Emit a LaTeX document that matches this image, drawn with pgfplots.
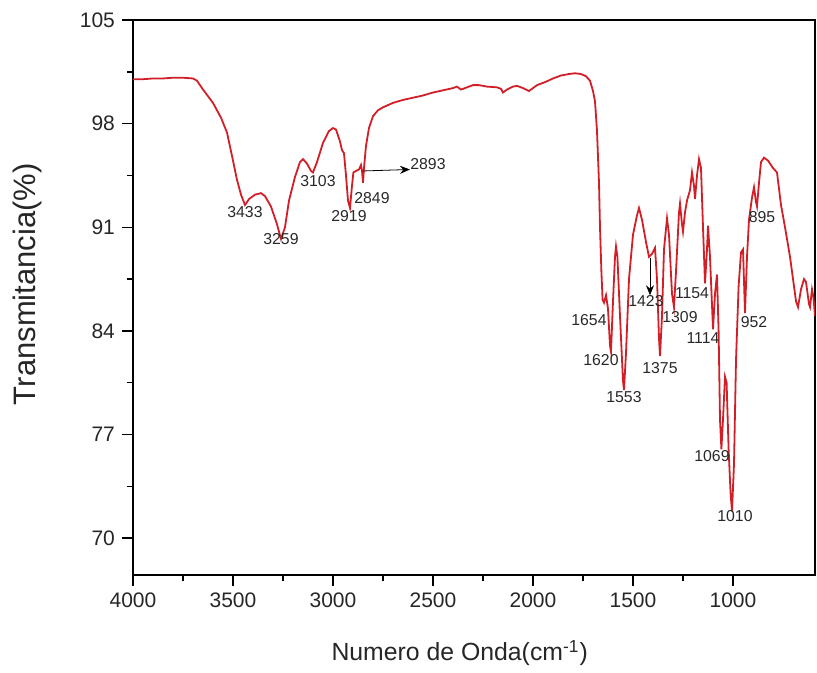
\documentclass[border=0pt]{standalone}
\usepackage{fontspec}
\setmainfont{Liberation Sans}
\usepackage{pgfplots}
\pgfplotsset{compat=1.18}
\usetikzlibrary{arrows.meta}
\definecolor{irred}{RGB}{210,30,38}
\definecolor{lbl}{RGB}{40,40,40}
\pgfplotstableread{
x y
4000 101.0
3950 101.0
3900 101.05
3850 101.05
3800 101.1
3750 101.1
3700 101.05
3680 100.9
3650 100.3
3600 99.4
3560 98.4
3530 97.4
3500 95.5
3480 94.2
3460 93.2
3440 92.5
3420 92.9
3390 93.2
3360 93.3
3340 93.1
3310 92.4
3280 91.2
3260 90.2
3240 91.0
3220 92.8
3190 94.4
3165 95.4
3150 95.6
3130 95.3
3110 94.8
3100 94.7
3080 95.4
3050 96.7
3020 97.5
3000 97.7
2985 97.6
2965 96.8
2955 96.2
2945 96.0
2935 94.5
2925 92.8
2915 92.3
2905 93.8
2898 94.7
2885 94.8
2870 94.9
2860 95.2
2855 94.8
2850 94.0
2845 95.0
2835 96.5
2820 97.7
2800 98.5
2775 98.9
2750 99.1
2700 99.4
2650 99.6
2600 99.75
2550 99.9
2500 100.1
2450 100.25
2400 100.4
2380 100.5
2360 100.3
2340 100.4
2300 100.6
2270 100.6
2230 100.5
2180 100.45
2160 100.35
2150 100.1
2130 100.3
2100 100.5
2080 100.55
2050 100.4
2020 100.2
2000 100.4
1980 100.6
1940 100.8
1900 101.05
1860 101.25
1820 101.35
1790 101.4
1760 101.35
1735 101.2
1715 100.9
1700 100.2
1690 99.5
1680 97.5
1670 94.0
1665 91.0
1658 88.0
1652 86.1
1645 85.9
1635 86.4
1625 85.5
1615 83.0
1610 82.6
1600 86.0
1590 89.0
1585 89.7
1578 89.0
1565 85.0
1550 80.6
1545 80.0
1535 82.5
1520 87.5
1500 90.5
1480 91.8
1470 92.3
1455 91.5
1435 90.0
1420 89.0
1405 89.2
1390 89.6
1380 87.5
1370 83.5
1365 82.3
1355 85.0
1345 89.5
1330 91.6
1320 90.5
1305 86.5
1295 85.6
1285 88.0
1270 92.0
1265 92.6
1255 91.2
1250 90.7
1240 92.0
1230 92.8
1215 93.5
1205 94.7
1195 93.8
1190 92.9
1180 94.5
1170 95.6
1160 95.0
1150 91.0
1140 87.2
1130 89.5
1125 91.1
1115 89.0
1100 84.1
1090 86.5
1080 87.8
1072 84.0
1065 78.0
1058 76.0
1050 78.0
1040 80.9
1032 80.5
1022 76.0
1012 73.0
1005 71.8
995 75.0
985 82.0
972 87.0
960 89.3
950 89.5
940 85.2
930 89.0
920 91.5
905 93.0
895 93.7
885 92.7
880 92.4
870 94.0
860 95.4
845 95.7
825 95.5
800 95.0
780 94.7
760 92.5
740 91.0
715 89.0
700 87.5
685 86.0
675 85.6
660 86.8
645 87.5
635 87.3
620 85.8
615 85.6
605 86.8
598 86.3
590 85.0
}\irdata
\begin{document}
\begin{tikzpicture}
\begin{axis}[
  scale only axis, width=341pt, height=277.5pt,
  x dir=reverse, xmin=590, xmax=4000, ymin=67.5, ymax=105,
  xtick={1000,1500,...,4000}, ytick={70,77,...,105},
  minor x tick num=1, minor y tick num=1,
  tick pos=left, tick align=outside,
  major tick length=5.5pt, minor tick length=3pt,
  tick style={black, line width=0.7pt},
  axis line style={line width=0.8pt},
  ticklabel style={font=\fontsize{10.5}{12}\selectfont, text=black!85},
  /pgf/number format/assume math mode=true,
  /pgf/number format/set thousands separator={},
  xlabel={Numero de Onda(cm\textsuperscript{-1})},
  ylabel={Transmitancia(\%)},
  label style={text=black!85},
  xlabel style={font=\fontsize{12.4}{14}\selectfont, at={(axis description cs:0.479,-0.1405)}, anchor=center},
  ylabel style={font=\fontsize{15.5}{17}\selectfont, at={(axis description cs:-0.154,0.524)}, anchor=center},
]
\addplot[irred, line width=0.9pt, no marks] table[x=x,y=y] {\irdata};
\begin{scope}[every node/.style={font=\fontsize{7.9}{9}\selectfont, text=lbl, inner sep=0pt}]
\node at (axis cs:3440,92.0) {3433};
\node at (axis cs:3260,90.2) {3259};
\node at (axis cs:3075,94.1) {3103};
\node at (axis cs:2920,91.75) {2919};
\node at (axis cs:2805,93.0) {2849};
\node at (axis cs:2525,95.3) {2893};
\node at (axis cs:1720,84.7) {1654};
\node at (axis cs:1660,82.0) {1620};
\node at (axis cs:1545,79.5) {1553};
\node at (axis cs:1435,86.0) {1423};
\node at (axis cs:1365,81.5) {1375};
\node at (axis cs:1265,84.9) {1309};
\node at (axis cs:1205,86.55) {1154};
\node at (axis cs:1150,83.5) {1114};
\node at (axis cs:895,84.6) {952};
\node at (axis cs:855,91.7) {895};
\node at (axis cs:1105,75.55) {1069};
\node at (axis cs:990,71.5) {1010};
\end{scope}
\draw[black, line width=0.4pt, -{Stealth[length=5pt,width=4pt]}] (axis cs:2850,94.8) -- (axis cs:2615,94.9);
\draw[black, line width=0.4pt, -{Stealth[length=5pt,width=4pt]}] (axis cs:1415,88.9) -- (axis cs:1415,86.4);
\end{axis}
\pgfresetboundingbox
\path[use as bounding box] (current axis.south west) ++(-66.5pt,-48.5pt) rectangle ([shift={(1pt,10pt)}]current axis.north east);
\end{tikzpicture}
\end{document}
